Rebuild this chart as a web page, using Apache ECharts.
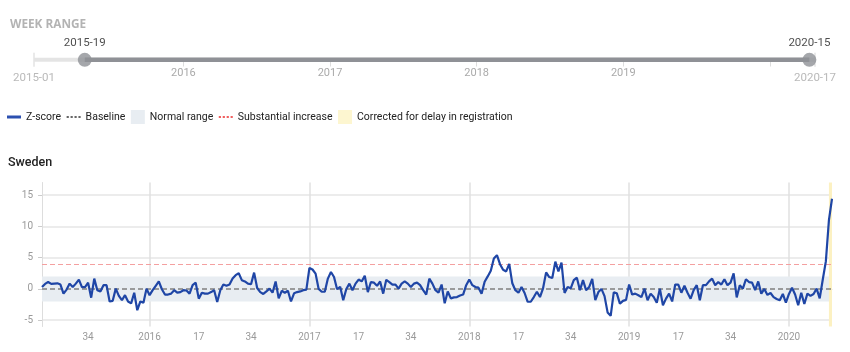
<!DOCTYPE html>
<html>
<head>
<meta charset="utf-8">
<script src="https://cdn.jsdelivr.net/npm/echarts@6/dist/echarts.min.js"></script>
<style>
  html, body { margin: 0; padding: 0; background: #fff; }
  #chart { width: 850px; height: 352px; }
</style>
</head>
<body>
<div id="chart"></div>
<script>
// weekly z-scores, 2015-19 .. 2020-15
const z2015 = [0.3, 0.8, 1.1, 0.8, 0.85, 0.9, 0.7, -0.75, -0.1, 0.85, 0.3, 0.85, 1.5, 0.3, 0.3, 1.0, -1.4, 1.65, -0.2, -0.4,
  0.6, 0.6, -2.0, -1.9, 0.05, -1.1, -1.8, -1.0, -2.0, -2.3, -0.6, -3.4, -2.0, -2.2, 0.05];
const z2016 = [-1.0, -0.2, 0.5, 1.2, -0.05, -0.9, -0.9, -0.75, -0.2, -0.6, -0.5, -0.2, -0.25, -0.75, 0.6, 1.0, -1.55, -0.6, -0.75, -0.75,
  -0.5, -0.2, -2.1, -0.2, 0.7, 0.5, 0.7, 1.65, 2.2, 2.5, 1.4, 1.2, 0.85, 0.75, 2.6, 0.15, -0.5, -0.8, -0.4, 0.05,
  -0.6, 1.2, -1.5, -0.3, -0.6, -0.3, -2.0, -0.7, -0.5, -0.4, -0.2, -0.1];
const z2017 = [3.35, 3.1, 2.45, 0.0, -0.45, -0.45, 1.65, 2.7, 1.9, -0.05, 0.35, -1.8, 0.0, 0.85, -0.2, 0.85, 1.5, 1.2, 2.1, -0.5,
  1.1, 1.0, 0.5, 1.2, -0.75, 1.45, 1.1, 0.7, 0.7, 0.05, 0.85, 1.2, 0.85, 0.3, 0.85, 1.0, 0.6, -0.2, -0.9, 1.65,
  0.85, -0.2, -0.6, 0.7, -2.3, -0.4, -1.5, -1.35, -1.3, -1.05, -0.9, 0.6];
const z2018 = [1.5, 0.6, 0.3, 0.2, -0.75, 1.15, 2.0, 2.9, 4.85, 5.4, 3.95, 3.05, 2.8, 4.0, 0.9, -0.2, -0.6, 0.3, -0.65, -2.05,
  -2.05, -1.3, -0.45, -1.3, 0.1, 2.65, 1.9, 1.75, 4.35, 2.8, 4.2, -0.65, 0.3, 0.1, 1.4, 1.8, -0.2, 1.4, -0.2, 0.3,
  1.6, -1.8, -0.5, 0.0, -1.15, -3.75, -4.3, -0.55, -0.7, -2.35, -1.9, -1.75];
const z2019 = [0.7, -0.9, -0.75, -1.0, -1.3, 0.05, -1.8, -0.75, -1.3, -2.2, 0.05, -2.6, -1.55, -0.75, -2.0, 0.7, 0.7, -0.6, 0.5, -0.6,
  -1.55, -0.2, 0.6, -1.8, 0.6, 0.6, 1.2, 1.65, 0.6, 1.1, 0.7, 1.55, 0.6, 1.0, 2.5, -1.35, 0.6, 0.05, 1.55, 1.1,
  1.0, -0.2, 1.2, -0.75, 0.0, -0.95, -0.65, -1.3, -1.6, -1.8, -0.8, -2.2];
const z2020 = [-0.8, 0.2, -0.9, -2.6, -0.6, -2.4, -0.75, -1.1, -0.8, 0.05, -1.5, 1.5, 4.4, 11.0, 14.4];

const years = [2015, 2016, 2017, 2018, 2019, 2020];
const weeksInYear = [53, 52, 52, 52, 52, 52];
const firstWeek = [19, 1, 1, 1, 1, 1];
const lastWeek = [53, 52, 52, 52, 52, 15];

const yTicks = [-5, 0, 5, 10, 15];
const normalRange = [-2, 2];
const baseline = 0;
const substantial = 4;
const correctedFrom = '2020-14';
const correctedTo = '2020-15';

// week range slider
const sliderStart = '2015-01';
const sliderEnd = '2020-17';
const rangeFrom = '2015-19';
const rangeTo = '2020-15';

const pad = (w) => (w < 10 ? '0' : '') + w;
const weeks = [];
years.forEach((y, k) => {
  for (let w = firstWeek[k]; w <= lastWeek[k]; w++) weeks.push(y + '-' + pad(w));
});
const zscore = [].concat(z2015, z2016, z2017, z2018, z2019, z2020);

// position of a week on the slider, counted from 2015-01
const weekPos = (s) => {
  const y = +s.slice(0, 4), w = +s.slice(5);
  let n = 0;
  for (let k = 0; years[k] < y; k++) n += weeksInYear[k];
  return n + w - 1;
};
const yearStarts = years.slice(1).map(y => weekPos(y + '-01'));
const trackY = 0.04;

const FONT = 'Roboto, sans-serif';
// legend icons
const solidIcon = 'path://M0,0h14v3h-14z';
const dotIcon = 'path://M0,0h2v2h-2z M3.6,0h2v2h-2z M7.2,0h2v2h-2z M10.8,0h2v2h-2z';

const chart = echarts.init(document.getElementById('chart'));

chart.setOption({
  animation: false,
  textStyle: { fontFamily: FONT },
  title: [
    { text: 'WEEK RANGE', left: 10, top: 19, padding: 0,
      textStyle: { fontSize: 11.8, fontWeight: 'bold', color: '#b3b3b3', fontFamily: '"Open Sans", sans-serif' } },
    { text: 'Sweden', left: 8, top: 156, padding: 0,
      textStyle: { fontSize: 12.5, fontWeight: 500, color: '#222', fontFamily: FONT } }
  ],
  legend: {
    left: 7, top: 110, padding: 0,
    itemWidth: 14, itemHeight: 14, itemGap: 5.5,
    textStyle: { fontSize: 10.5, color: '#222', fontFamily: FONT },
    data: [
      { name: 'Z-score', icon: solidIcon, itemStyle: { color: '#2c50b0', borderWidth: 0 } },
      { name: 'Baseline', icon: dotIcon, itemStyle: { color: '#666', borderWidth: 0 } },
      { name: 'Normal range', icon: 'rect', itemStyle: { color: '#e8edf2', borderWidth: 0 } },
      { name: 'Substantial increase', icon: dotIcon, itemStyle: { color: '#f06060', borderWidth: 0 } },
      { name: 'Corrected for delay in registration', icon: 'rect', itemStyle: { color: '#fdf6d0', borderWidth: 0 } }
    ]
  },
  grid: [
    { left: 42, right: 18, top: 182.5, bottom: 25.5 },
    { left: 34, right: 35, top: 20, height: 41.5 }
  ],
  xAxis: [
    {
      type: 'category', data: weeks, boundaryGap: false,
      axisLine: { lineStyle: { color: '#ddd' } },
      axisTick: { length: 3, lineStyle: { color: '#ccc' },
        interval: (i, v) => [1, 17, 34].includes(+v.slice(5)) },
      axisLabel: { fontSize: 10, color: '#9a9a9a', margin: 6,
        interval: (i, v) => [1, 17, 34].includes(+v.slice(5)),
        formatter: (v) => (+v.slice(5) === 1 ? v.slice(0, 4) : String(+v.slice(5))) },
      splitLine: { show: true, lineStyle: { color: '#e0e0e0', width: 1.5 },
        interval: (i, v) => +v.slice(5) === 1 }
    },
    {
      type: 'value', gridIndex: 1, min: 0, max: weekPos(sliderEnd),
      axisLine: { show: false },
      splitLine: { show: false },
      axisTick: { show: true, length: 5, customValues: yearStarts, lineStyle: { color: '#ddd' } },
      axisLabel: { fontSize: 11, color: '#aaa', margin: 6,
        customValues: yearStarts.slice(0, 4),
        formatter: (v) => String(years[yearStarts.indexOf(v) + 1]) }
    }
  ],
  yAxis: [
    {
      type: 'value', min: -6, max: 17,
      axisLine: { show: true, lineStyle: { color: '#ddd' } },
      axisTick: { show: true, length: 4, customValues: yTicks, lineStyle: { color: '#ccc' } },
      axisLabel: { fontSize: 10, color: '#9a9a9a', margin: 9, customValues: yTicks },
      splitLine: { show: true, lineStyle: { color: '#e6e6e6', width: 1.5 } }
    },
    { type: 'value', gridIndex: 1, min: 0, max: 1, show: false }
  ],
  series: [
    {
      name: 'Normal range', type: 'line', data: [],
      markArea: { silent: true, itemStyle: { color: '#e8edf2' },
        data: [[{ yAxis: normalRange[0] }, { yAxis: normalRange[1] }]] }
    },
    {
      name: 'Corrected for delay in registration', type: 'line', data: [],
      markArea: { silent: true, itemStyle: { color: '#fcf1c2' },
        data: [[{ xAxis: correctedFrom }, { xAxis: correctedTo }]] }
    },
    {
      name: 'Baseline', type: 'line', data: [],
      markLine: { silent: true, symbol: 'none', label: { show: false },
        lineStyle: { color: '#808080', type: [5, 3], width: 1.5 },
        data: [{ yAxis: baseline }] }
    },
    {
      name: 'Substantial increase', type: 'line', data: [],
      markLine: { silent: true, symbol: 'none', label: { show: false },
        lineStyle: { color: '#f4a0a0', type: [5, 3], width: 1 },
        data: [{ yAxis: substantial }] }
    },
    {
      name: 'Z-score', type: 'line', data: zscore,
      showSymbol: false, symbol: 'none', z: 5,
      lineStyle: { color: '#1f46a6', width: 2.2 }
    },
    // slider
    {
      type: 'line', xAxisIndex: 1, yAxisIndex: 1, symbol: 'none', silent: true,
      lineStyle: { color: '#e4e4e4', width: 4 },
      data: [[weekPos(sliderStart), trackY], [weekPos(sliderEnd), trackY]]
    },
    {
      type: 'line', xAxisIndex: 1, yAxisIndex: 1, symbol: 'none', silent: true,
      lineStyle: { color: '#8f9196', width: 4.5 },
      data: [[weekPos(rangeFrom), trackY], [weekPos(rangeTo), trackY]]
    },
    {
      type: 'scatter', xAxisIndex: 1, yAxisIndex: 1, silent: true,
      symbol: 'rect', symbolSize: [1.5, 14], itemStyle: { color: '#ddd' },
      label: { show: true, position: 'bottom', distance: 5, fontSize: 11.5, color: '#a8a8a8',
        formatter: (p) => p.data[2] },
      data: [[weekPos(sliderStart), trackY, sliderStart], [weekPos(sliderEnd), trackY, sliderEnd]]
    },
    {
      type: 'scatter', xAxisIndex: 1, yAxisIndex: 1, silent: true, z: 5,
      symbolSize: 14, itemStyle: { color: '#8f9196' },
      label: { show: true, position: 'top', distance: 4, fontSize: 11.5, color: '#222',
        formatter: (p) => p.data[2] },
      data: [[weekPos(rangeFrom), trackY, rangeFrom], [weekPos(rangeTo), trackY, rangeTo]]
    }
  ]
});
</script>
</body>
</html>
